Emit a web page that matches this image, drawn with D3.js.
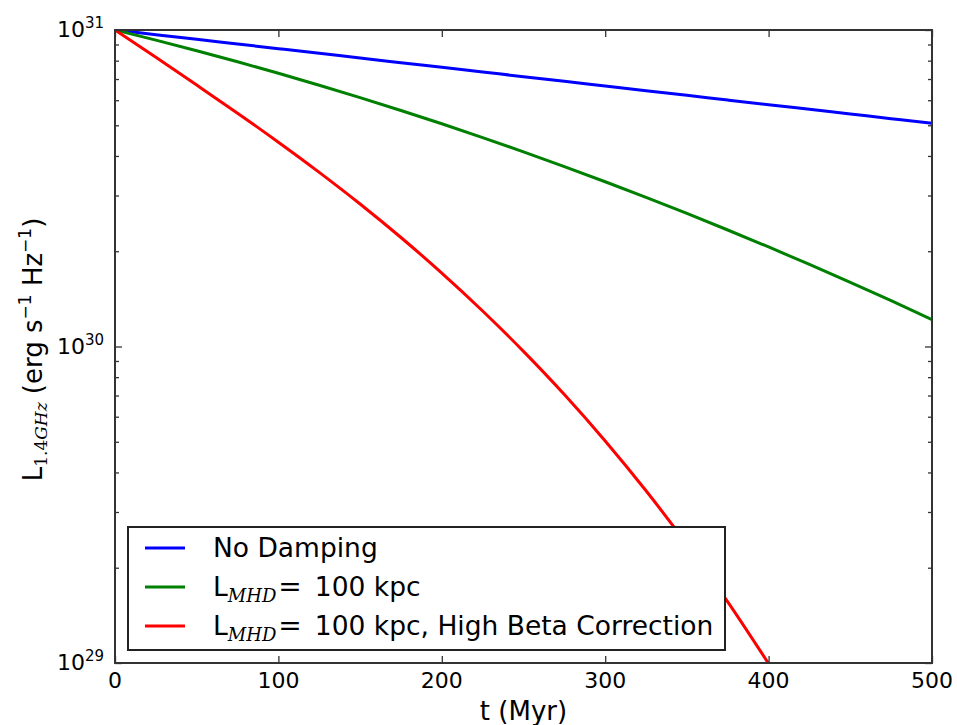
<!DOCTYPE html>
<html>
<head>
<meta charset="utf-8">
<script src="https://cdn.jsdelivr.net/npm/d3@7"></script>
<style>
  body { margin: 0; background: #fff; }
  text { font-family: "DejaVu Sans", sans-serif; fill: #000; }
  .axis path { display: none; }
  .axis line { stroke: #333; stroke-width: 1.3; }
  .math { font-family: "DejaVu Serif", serif; }
</style>
</head>
<body>
<div id="chart"></div>
<script>
// time in Myr
const times = [0, 25, 50, 75, 100, 125, 150, 175, 200, 225, 250, 275, 300, 325, 350, 375, 400, 425, 450, 475, 500];

// L_1.4GHz (erg s^-1 Hz^-1)
const noDamping = [10.0e30, 9.666e30, 9.343e30, 9.031e30, 8.730e30, 8.438e30, 8.157e30, 7.884e30, 7.621e30, 7.367e30,
  7.121e30, 6.883e30, 6.653e30, 6.431e30, 6.216e30, 6.009e30, 5.808e30, 5.614e30, 5.427e30, 5.246e30, 5.070e30];
const lmhd100 = [10.0e30, 9.290e30, 8.602e30, 7.938e30, 7.301e30, 6.693e30, 6.115e30, 5.568e30, 5.054e30, 4.571e30,
  4.121e30, 3.702e30, 3.316e30, 2.960e30, 2.633e30, 2.334e30, 2.063e30, 1.816e30, 1.594e30, 1.395e30, 1.216e30];
const highBeta = [10.0e30, 8.20e30, 6.70e30, 5.46e30, 4.42e30, 3.55e30, 2.82e30, 2.21e30, 1.706e30, 1.295e30,
  0.965e30, 0.705e30, 0.503e30, 0.350e30, 0.237e30, 0.156e30, 0.0995e30];

const xTicks = [0, 100, 200, 300, 400, 500];
const yMajor = [1e29, 1e30, 1e31];
const yExp = ["29", "30", "31"];
const yMinor = [2e29, 3e29, 4e29, 5e29, 6e29, 7e29, 8e29, 9e29, 2e30, 3e30, 4e30, 5e30, 6e30, 7e30, 8e30, 9e30];

const series = [
  {name: "none", color: "#0000ff", values: noDamping},
  {name: "mhd", color: "#008000", values: lmhd100},
  {name: "beta", color: "#ff0000", values: highBeta}
];

const W = 957, H = 725;
const margin = {top: 30, right: 25, bottom: 62, left: 115};
const width = W - margin.left - margin.right;
const height = H - margin.top - margin.bottom;

let svg = d3.select("#chart").append("svg")
  .attr("width", W)
  .attr("height", H);

svg.append("rect").attr("width", W).attr("height", H).attr("fill", "#fff");

let g = svg.append("g").attr("transform", "translate(" + margin.left + "," + margin.top + ")");

let x = d3.scaleLinear().domain([0, 500]).range([0, width]);
let y = d3.scaleLog().domain([1e29, 1e31]).range([height, 0]);

g.append("clipPath").attr("id", "plotclip")
  .append("rect").attr("width", width).attr("height", height);

// lines
let line = d3.line()
  .curve(d3.curveMonotoneX)
  .x((d, i) => x(times[i]))
  .y(d => y(d));

g.append("g").attr("clip-path", "url(#plotclip)")
  .selectAll("path")
  .data(series)
  .enter().append("path")
    .attr("fill", "none")
    .attr("stroke", d => d.color)
    .attr("stroke-width", 3)
    .attr("stroke-linejoin", "round")
    .attr("d", d => line(d.values));

// ticks pointing inward, on all four sides
function ticks(axis, vals, size, tx) {
  g.append("g")
    .attr("class", "axis")
    .attr("transform", tx || null)
    .call(axis.tickValues(vals).tickSizeInner(size).tickSizeOuter(0).tickFormat(""));
}
ticks(d3.axisBottom(x), xTicks, -7, "translate(0," + height + ")");
ticks(d3.axisTop(x), xTicks, -7);
ticks(d3.axisLeft(y), yMajor, -7);
ticks(d3.axisLeft(y), yMinor, -4);
ticks(d3.axisRight(y), yMajor, -7, "translate(" + width + ",0)");
ticks(d3.axisRight(y), yMinor, -4, "translate(" + width + ",0)");

// frame
g.append("rect")
  .attr("width", width).attr("height", height)
  .attr("fill", "none").attr("stroke", "#333").attr("stroke-width", 2);

// x tick labels
g.selectAll(".xlab")
  .data(xTicks)
  .enter().append("text")
    .attr("x", d => x(d))
    .attr("y", height + 25)
    .attr("text-anchor", "middle")
    .attr("font-size", 22)
    .text(d => d);

// y tick labels 10^n
let ylab = g.selectAll(".ylab")
  .data(yMajor)
  .enter().append("text")
    .attr("x", -11)
    .attr("y", d => y(d) + 7)
    .attr("text-anchor", "end");
ylab.append("tspan").attr("font-size", 22).text("10");
ylab.append("tspan").attr("font-size", 15).attr("dy", -9).text((d, i) => yExp[i]);

// axis labels
svg.append("text")
  .attr("x", margin.left + width / 2)
  .attr("y", 720)
  .attr("text-anchor", "middle")
  .attr("font-size", 26)
  .text("t (Myr)");

let yl = svg.append("text")
  .attr("transform", "translate(42," + (margin.top + height / 2 + 3) + ") rotate(-90)")
  .attr("text-anchor", "middle")
  .attr("font-size", 26);
yl.append("tspan").text("L");
yl.append("tspan").attr("class", "math").attr("font-size", 17).attr("dy", 5).text("1.4");
yl.append("tspan").attr("class", "math").attr("font-size", 17).attr("font-style", "italic").text("GHz");
yl.append("tspan").attr("dy", -5).text(" (erg s");
yl.append("tspan").attr("font-size", 17).attr("dy", -11).text("\u22121");
yl.append("tspan").attr("dy", 11).text(" Hz");
yl.append("tspan").attr("font-size", 17).attr("dy", -11).text("\u22121");
yl.append("tspan").attr("dy", 11).text(")");

// legend
const legendLabels = [
  {color: "#0000ff", sub: null, text: "No Damping"},
  {color: "#008000", sub: "MHD", text: "100 kpc"},
  {color: "#ff0000", sub: "MHD", text: "100 kpc, High Beta Correction"}
];

let legend = g.append("g").attr("transform", "translate(13," + (height - 136) + ")");
legend.append("rect")
  .attr("width", 597).attr("height", 123)
  .attr("fill", "#fff").attr("stroke", "#222").attr("stroke-width", 2);

let item = legend.selectAll(".item")
  .data(legendLabels)
  .enter().append("g")
    .attr("transform", (d, i) => "translate(0," + (21 + i * 39) + ")");

item.append("line")
  .attr("x1", 17).attr("x2", 57)
  .attr("stroke", d => d.color).attr("stroke-width", 3);

let lt = item.append("text")
  .attr("x", 85).attr("y", 9)
  .attr("font-size", 26.5);
lt.each(function(d) {
  let t = d3.select(this);
  if (!d.sub) { t.text(d.text); return; }
  t.append("tspan").text("L");
  t.append("tspan").attr("class", "math").attr("font-style", "italic").attr("font-size", 18).attr("dy", 6).text(d.sub);
  t.append("tspan").attr("class", "math").attr("dy", -6).attr("dx", 2).attr("font-size", 28).text("=");
  t.append("tspan").attr("dx", 13).text(d.text);
});
</script>
</body>
</html>
